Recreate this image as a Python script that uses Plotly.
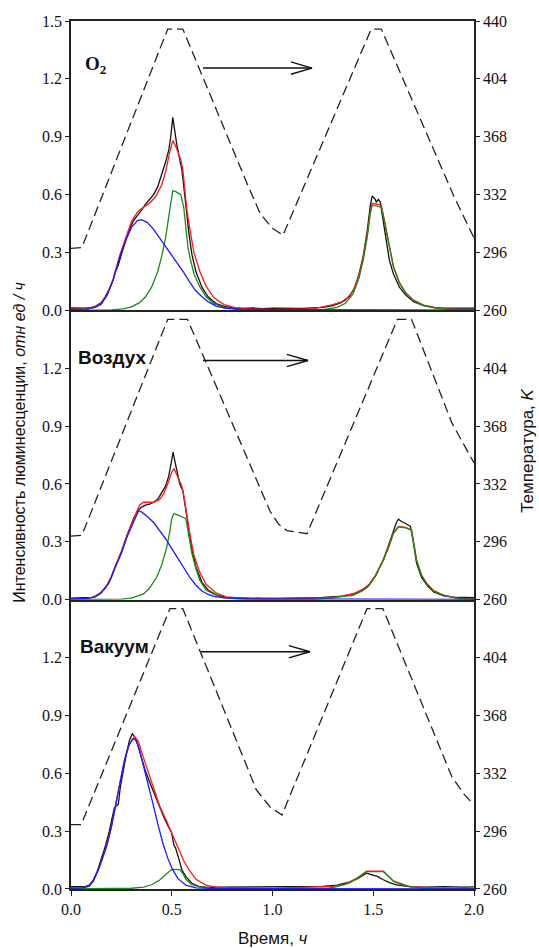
import plotly.graph_objects as go

# ---------------- data (time, h ; intensity, rel. units / h) ----------------
PANEL_NAMES = ["O<sub>2</sub>", "Воздух", "Вакуум"]

O2_BLACK = [(0.00,0.012),(0.03,0.010),(0.06,0.011),(0.09,0.012),(0.12,0.020),(0.15,0.040),(0.17,0.070),
            (0.19,0.110),(0.21,0.160),(0.22,0.200),(0.235,0.235),(0.25,0.290),(0.27,0.360),(0.29,0.420),
            (0.31,0.465),(0.33,0.490),(0.35,0.520),(0.37,0.550),(0.39,0.575),(0.41,0.600),(0.43,0.640),
            (0.45,0.700),(0.47,0.770),(0.485,0.830),(0.495,0.900),(0.505,1.000),(0.515,0.920),(0.525,0.860),
            (0.54,0.780),(0.55,0.730),(0.56,0.640),(0.57,0.540),(0.585,0.400),(0.60,0.290),(0.62,0.200),
            (0.65,0.120),(0.68,0.070),(0.72,0.035),(0.76,0.020),(0.80,0.013),(0.85,0.010),(0.90,0.012),
            (0.95,0.009),(1.00,0.011),(1.05,0.010),(1.10,0.012),(1.15,0.010),(1.20,0.013),(1.25,0.015),
            (1.30,0.025),(1.34,0.040),(1.38,0.070),(1.41,0.120),(1.43,0.190),(1.45,0.280),(1.47,0.410),
            (1.485,0.540),(1.495,0.593),(1.51,0.575),(1.515,0.560),(1.525,0.575),(1.535,0.560),(1.545,0.490),
            (1.56,0.380),(1.58,0.260),(1.60,0.190),(1.63,0.120),(1.66,0.080),(1.70,0.045),(1.75,0.025),
            (1.80,0.014),(1.85,0.011),(1.90,0.010),(1.95,0.012),(2.00,0.011)]
O2_RED = [(0.00,0.006),(0.08,0.008),(0.12,0.018),(0.15,0.038),(0.18,0.083),(0.21,0.165),(0.24,0.280),
          (0.27,0.375),(0.30,0.460),(0.33,0.510),(0.36,0.535),(0.39,0.555),(0.42,0.590),(0.45,0.650),
          (0.47,0.720),(0.49,0.820),(0.505,0.880),(0.52,0.850),(0.545,0.780),(0.555,0.730),(0.565,0.630),
          (0.575,0.520),(0.59,0.420),(0.61,0.300),(0.64,0.200),(0.67,0.125),(0.71,0.065),(0.76,0.030),
          (0.82,0.013),(0.90,0.007),(1.00,0.005),(1.20,0.008),(1.30,0.030),(1.36,0.050),(1.40,0.100),
          (1.43,0.185),(1.45,0.275),(1.47,0.390),(1.485,0.510),(1.495,0.555),(1.52,0.550),(1.54,0.545),
          (1.555,0.470),(1.57,0.390),(1.60,0.230),(1.63,0.145),(1.66,0.093),(1.70,0.053),(1.75,0.027),
          (1.82,0.012),(1.90,0.005),(2.00,0.003)]
O2_GREEN = [(0.00,0.000),(0.20,0.002),(0.26,0.008),(0.30,0.018),(0.34,0.040),(0.37,0.070),(0.40,0.120),
            (0.43,0.200),(0.45,0.280),(0.47,0.380),(0.49,0.520),(0.505,0.620),(0.52,0.615),(0.545,0.600),
            (0.56,0.530),(0.57,0.410),(0.58,0.330),(0.59,0.275),(0.61,0.190),(0.64,0.120),(0.67,0.070),
            (0.71,0.035),(0.76,0.015),(0.82,0.005),(0.90,0.001),(1.00,0.000),(1.25,0.003),(1.32,0.015),
            (1.36,0.035),(1.40,0.085),(1.43,0.170),(1.45,0.260),(1.47,0.380),(1.485,0.500),(1.495,0.545),
            (1.52,0.540),(1.54,0.535),(1.555,0.460),(1.57,0.380),(1.60,0.225),(1.63,0.140),(1.66,0.090),
            (1.70,0.050),(1.75,0.025),(1.82,0.010),(1.90,0.003),(2.00,0.001)]
O2_BLUE = [(0.00,0.005),(0.08,0.006),(0.12,0.015),(0.15,0.032),(0.18,0.080),(0.21,0.160),(0.24,0.270),
           (0.27,0.360),(0.30,0.430),(0.33,0.465),(0.35,0.470),(0.38,0.455),(0.41,0.420),(0.44,0.375),
           (0.47,0.330),(0.50,0.290),(0.53,0.245),(0.56,0.195),(0.59,0.145),(0.62,0.100),(0.65,0.070),
           (0.68,0.045),(0.72,0.022),(0.77,0.010),(0.85,0.006),(1.00,0.004),(1.60,0.002),(2.00,0.001)]
O2_TEMP = [(0.00,298.5),(0.054,299.0),(0.48,435.0),(0.555,435.0),(0.88,337.0),(0.94,320.0),(1.00,311.0),
           (1.052,306.7),(1.49,435.0),(1.54,435.0),(1.90,331.0),(1.96,316.0),(2.00,305.0)]

AIR_BLACK = [(0.00,0.008),(0.04,0.009),(0.08,0.008),(0.11,0.012),(0.14,0.030),(0.17,0.060),(0.19,0.090),
             (0.21,0.140),(0.23,0.190),(0.25,0.250),(0.27,0.310),(0.29,0.370),(0.31,0.420),(0.33,0.460),
             (0.35,0.480),(0.37,0.490),(0.39,0.495),(0.41,0.505),(0.43,0.520),(0.45,0.555),(0.47,0.590),
             (0.485,0.640),(0.495,0.690),(0.507,0.765),(0.515,0.720),(0.525,0.670),(0.54,0.600),(0.555,0.565),
             (0.565,0.500),(0.58,0.380),(0.60,0.260),(0.62,0.170),(0.65,0.090),(0.68,0.050),(0.72,0.025),
             (0.77,0.012),(0.85,0.008),(0.95,0.006),(1.05,0.007),(1.15,0.009),(1.25,0.012),(1.35,0.018),
             (1.42,0.035),(1.47,0.065),(1.51,0.120),(1.55,0.205),(1.58,0.290),(1.60,0.355),(1.615,0.400),
             (1.625,0.417),(1.64,0.405),(1.66,0.395),(1.685,0.380),(1.70,0.290),(1.715,0.190),(1.74,0.115),
             (1.77,0.070),(1.80,0.040),(1.85,0.020),(1.90,0.013),(1.95,0.010),(2.00,0.010)]
AIR_RED = [(0.00,0.005),(0.08,0.007),(0.12,0.016),(0.15,0.037),(0.18,0.078),(0.20,0.120),(0.22,0.175),
           (0.25,0.245),(0.28,0.340),(0.30,0.390),(0.32,0.445),(0.34,0.490),(0.36,0.505),(0.38,0.505),
           (0.41,0.505),(0.44,0.520),(0.46,0.550),(0.48,0.600),(0.50,0.660),(0.511,0.680),(0.53,0.640),
           (0.55,0.590),(0.557,0.557),(0.57,0.470),(0.59,0.340),(0.61,0.230),(0.64,0.140),(0.67,0.080),
           (0.72,0.035),(0.77,0.015),(0.85,0.008),(1.00,0.006),(1.30,0.010),(1.40,0.030),(1.45,0.055),
           (1.48,0.080),(1.51,0.125),(1.55,0.208),(1.58,0.285),(1.60,0.345),(1.625,0.380),(1.66,0.375),
           (1.69,0.362),(1.70,0.300),(1.715,0.205),(1.74,0.127),(1.765,0.085),(1.80,0.047),(1.85,0.023),
           (1.92,0.008),(2.00,0.004)]
AIR_GREEN = [(0.00,0.000),(0.25,0.003),(0.30,0.008),(0.34,0.020),(0.36,0.030),(0.39,0.060),(0.425,0.116),
             (0.45,0.180),(0.475,0.270),(0.49,0.350),(0.50,0.420),(0.51,0.445),(0.53,0.440),(0.55,0.430),
             (0.57,0.420),(0.58,0.360),(0.60,0.240),(0.62,0.160),(0.64,0.100),(0.67,0.050),(0.706,0.030),
             (0.75,0.012),(0.82,0.004),(0.90,0.000),(1.20,0.000),(1.40,0.022),(1.42,0.031),(1.45,0.048),
             (1.48,0.074),(1.51,0.120),(1.55,0.204),(1.58,0.280),(1.60,0.343),(1.625,0.377),(1.66,0.372),
             (1.69,0.360),(1.70,0.300),(1.715,0.204),(1.74,0.125),(1.765,0.083),(1.80,0.045),(1.85,0.022),
             (1.92,0.006),(2.00,0.002)]
AIR_BLUE = [(0.00,0.004),(0.08,0.006),(0.12,0.015),(0.15,0.035),(0.18,0.075),(0.20,0.115),(0.22,0.170),
            (0.25,0.240),(0.28,0.330),(0.30,0.380),(0.32,0.430),(0.335,0.460),(0.35,0.455),(0.38,0.430),
            (0.41,0.400),(0.44,0.360),(0.47,0.315),(0.50,0.265),(0.53,0.215),(0.56,0.165),(0.59,0.115),
            (0.62,0.075),(0.65,0.045),(0.68,0.027),(0.71,0.017),(0.76,0.009),(0.85,0.005),(1.00,0.004),
            (1.50,0.003),(2.00,0.002)]
AIR_TEMP = [(0.00,299.5),(0.054,300.0),(0.48,434.4),(0.578,434.4),(0.988,315.0),(1.03,307.0),(1.072,303.0),
            (1.171,301.0),(1.62,434.4),(1.69,434.4),(1.89,370.0),(2.00,345.0)]

VAC_BLACK = [(0.00,0.012),(0.04,0.011),(0.07,0.012),(0.09,0.020),(0.11,0.045),(0.13,0.090),(0.15,0.150),
             (0.17,0.220),(0.19,0.300),(0.205,0.370),(0.215,0.420),(0.225,0.430),(0.235,0.440),(0.245,0.530),
             (0.26,0.620),(0.275,0.700),(0.29,0.770),(0.304,0.805),(0.315,0.790),(0.33,0.750),(0.35,0.680),
             (0.37,0.610),(0.39,0.555),(0.406,0.514),(0.42,0.470),(0.44,0.420),(0.46,0.375),(0.48,0.330),
             (0.49,0.310),(0.50,0.290),(0.51,0.230),(0.52,0.210),(0.537,0.150),(0.55,0.100),(0.57,0.064),
             (0.60,0.030),(0.636,0.012),(0.68,0.008),(0.75,0.009),(0.85,0.010),(0.95,0.009),(1.05,0.012),
             (1.15,0.011),(1.25,0.014),(1.32,0.020),(1.38,0.035),(1.42,0.052),(1.45,0.072),(1.467,0.082),
             (1.49,0.075),(1.52,0.065),(1.55,0.048),(1.58,0.033),(1.62,0.020),(1.68,0.012),(1.75,0.010),
             (1.85,0.012),(1.95,0.010),(2.00,0.011)]
VAC_RED = [(0.00,0.005),(0.06,0.007),(0.09,0.016),(0.11,0.041),(0.14,0.110),(0.176,0.220),(0.20,0.320),
           (0.225,0.445),(0.245,0.560),(0.266,0.670),(0.29,0.750),(0.316,0.790),(0.335,0.765),(0.36,0.680),
           (0.385,0.600),(0.406,0.531),(0.44,0.430),(0.472,0.358),(0.50,0.290),(0.52,0.240),(0.537,0.200),
           (0.56,0.145),(0.586,0.099),(0.62,0.050),(0.67,0.020),(0.72,0.010),(0.80,0.006),(1.00,0.005),
           (1.30,0.013),(1.36,0.025),(1.42,0.057),(1.467,0.092),(1.55,0.092),(1.60,0.042),(1.68,0.013),
           (1.80,0.004),(2.00,0.002)]
VAC_GREEN = [(0.00,0.000),(0.30,0.004),(0.36,0.010),(0.40,0.022),(0.44,0.047),(0.47,0.075),(0.49,0.097),
             (0.50,0.102),(0.54,0.100),(0.555,0.080),(0.57,0.050),(0.60,0.022),(0.636,0.012),(0.70,0.004),
             (0.80,0.000),(1.20,0.000),(1.28,0.005),(1.32,0.012),(1.36,0.024),(1.385,0.033),(1.42,0.055),
             (1.45,0.080),(1.467,0.090),(1.55,0.090),(1.57,0.070),(1.60,0.040),(1.64,0.022),(1.68,0.012),
             (1.75,0.004),(1.85,0.001),(2.00,0.000)]
VAC_BLUE = [(0.00,0.004),(0.06,0.006),(0.09,0.015),(0.11,0.040),(0.14,0.110),(0.176,0.220),(0.20,0.320),
            (0.225,0.445),(0.245,0.560),(0.266,0.670),(0.285,0.740),(0.307,0.780),(0.325,0.770),(0.34,0.720),
            (0.357,0.652),(0.38,0.550),(0.406,0.445),(0.43,0.340),(0.456,0.237),(0.48,0.160),(0.505,0.099),
            (0.53,0.055),(0.57,0.020),(0.62,0.006),(0.70,0.003),(1.00,0.002),(2.00,0.001)]
VAC_TEMP = [(0.00,300.0),(0.05,300.0),(0.491,434.4),(0.555,434.4),(0.92,321.7),(0.988,311.0),(1.047,306.0),
            (1.469,434.4),(1.548,434.4),(1.89,329.8),(1.95,319.0),(2.00,312.3)]

# arrows pointing to the right-hand (temperature) axis: start x, end x, level
ARROW_X0 = [0.655, 0.655, 0.645]
ARROW_X1 = [1.196, 1.176, 1.186]
ARROW_Y = [1.256, 1.240, 1.230]
LABEL_X = [0.06, 0.025, 0.035]
LABEL_Y = [1.27, 1.256, 1.259]

X_TICKS = [0.0, 0.5, 1.0, 1.5, 2.0]
Y_TICKS_TOP = [0.0, 0.3, 0.6, 0.9, 1.2, 1.5]
Y_TICKS = [0.0, 0.3, 0.6, 0.9, 1.2]
T_TICKS_TOP = [260, 296, 332, 368, 404, 440]
T_TICKS = [260, 296, 332, 368, 404]

PANELS = [
    dict(black=O2_BLACK, red=O2_RED, green=O2_GREEN, blue=O2_BLUE, temp=O2_TEMP),
    dict(black=AIR_BLACK, red=AIR_RED, green=AIR_GREEN, blue=AIR_BLUE, temp=AIR_TEMP),
    dict(black=VAC_BLACK, red=VAC_RED, green=VAC_GREEN, blue=VAC_BLUE, temp=VAC_TEMP),
]

COLORS = dict(black="#111111", red="#ff1a1a", green="#1a8a1a", blue="#1a1aff")

def unzip(pairs):
    return [p[0] for p in pairs], [p[1] for p in pairs]

fig = go.Figure()
TICKFONT = dict(family="Liberation Serif, Times New Roman, serif", size=16, color="#111")
AXLINE = dict(showline=True, linecolor="#222", linewidth=1.5, showgrid=False, zeroline=False)

domains = [[2/3, 1.0], [1/3, 2/3], [0.0, 1/3]]
layout_axes = {}
for i, p in enumerate(PANELS):
    xa = "x" if i == 0 else f"x{i+1}"
    yl = "y" if i == 0 else f"y{2*i+1}"
    yr = f"y{2*i+2}"
    # temperature (right axis)
    tx, tv = unzip(p["temp"])
    fig.add_trace(go.Scatter(x=tx, y=tv, xaxis=xa, yaxis=yr, mode="lines",
                             line=dict(color="#222", width=1.3, dash="10px,5px")))
    for key in ["black", "red", "green", "blue"]:
        sx, sv = unzip(p[key])
        fig.add_trace(go.Scatter(x=sx, y=sv, xaxis=xa, yaxis=yl, mode="lines",
                                 line=dict(color=COLORS[key], width=1.3)))
    # arrow (line + open chevron head)
    x0, x1, ya = ARROW_X0[i], ARROW_X1[i], ARROW_Y[i]
    hx, hy = 0.105, 0.032
    fig.add_trace(go.Scatter(x=[x0, x1, None, x1 - hx, x1, x1 - hx],
                             y=[ya, ya, None, ya + hy, ya, ya - hy],
                             xaxis=xa, yaxis=yl, mode="lines",
                             line=dict(color="#111", width=1.4)))
    # panel label
    if i == 0:
        fig.add_annotation(x=LABEL_X[i], y=LABEL_Y[i], xref=xa, yref=yl, xanchor="left", yanchor="middle",
                           text="<b>" + PANEL_NAMES[i] + "</b>", showarrow=False,
                           font=dict(family="Liberation Serif, Times New Roman, serif", size=19, color="#111"))
    else:
        fig.add_annotation(x=LABEL_X[i], y=LABEL_Y[i], xref=xa, yref=yl, xanchor="left", yanchor="middle",
                           text="<b>" + PANEL_NAMES[i] + "</b>", showarrow=False,
                           font=dict(family="Liberation Sans, Arial, sans-serif", size=19, color="#111"))

    xkey = "xaxis" if i == 0 else f"xaxis{i+1}"
    ylkey = "yaxis" if i == 0 else f"yaxis{2*i+1}"
    yrkey = f"yaxis{2*i+2}"
    last = (i == 2)
    layout_axes[xkey] = dict(domain=[0, 1], range=[0, 2], anchor=yl, mirror=(i == 0),
                             tickvals=X_TICKS if last else [], ticks="outside" if last else "",
                             ticklen=5, tickwidth=1.3, tickcolor="#222", tickformat=".1f",
                             showticklabels=last, tickfont=TICKFONT, **AXLINE)
    layout_axes[ylkey] = dict(domain=domains[i], range=[0, 1.5], anchor=xa,
                              tickvals=Y_TICKS_TOP if i == 0 else Y_TICKS, tickformat=".1f",
                              ticks="outside", ticklen=4, tickwidth=1.3, tickcolor="#222",
                              tickfont=TICKFONT, **AXLINE)
    layout_axes[yrkey] = dict(overlaying=yl, side="right", range=[260, 440], anchor=xa,
                              tickvals=T_TICKS_TOP if i == 0 else T_TICKS,
                              ticks="outside", ticklen=4, tickwidth=1.3, tickcolor="#222",
                              tickfont=TICKFONT, **AXLINE)

fig.update_layout(**layout_axes)

TITLEFONT = dict(family="Liberation Sans, Arial, sans-serif", size=16, color="#111")
fig.add_annotation(x=-0.127, y=0.515, xref="paper", yref="paper", xanchor="center", yanchor="middle",
                   textangle=-90, showarrow=False, font=TITLEFONT,
                   text="Интенсивность люминесценции, <i>отн ед / ч</i>")
fig.add_annotation(x=1.132, y=0.505, xref="paper", yref="paper", xanchor="center", yanchor="middle",
                   textangle=-90, showarrow=False, font=dict(TITLEFONT, size=17),
                   text="Температура, <i>K</i>")
fig.add_annotation(x=0.502, y=-0.057, xref="paper", yref="paper", xanchor="center", yanchor="middle",
                   showarrow=False, font=dict(TITLEFONT, size=17),
                   text="Время, <i>ч</i>")

fig.update_layout(width=539, height=948, margin=dict(l=71, r=65, t=21, b=59),
                  paper_bgcolor="white", plot_bgcolor="white", showlegend=False)

fig.write_html("out.html", config={"displayModeBar": False},
               post_script="document.body.style.margin='0';document.body.style.padding='0';")
